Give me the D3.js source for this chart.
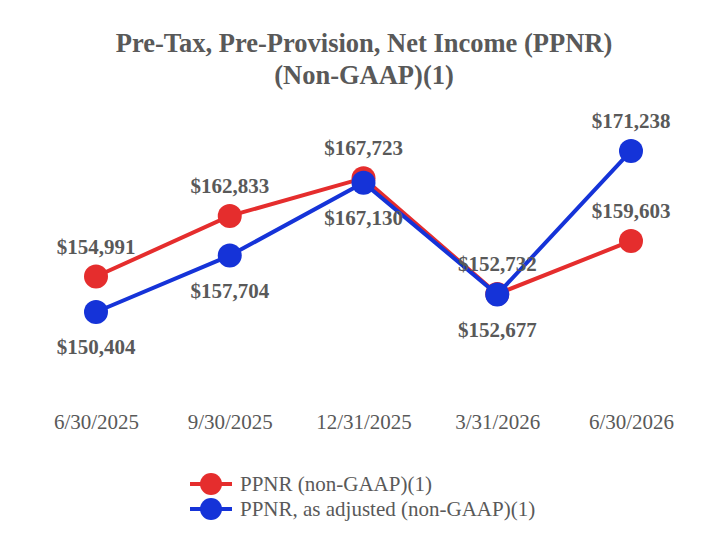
<!DOCTYPE html>
<html>
<head>
<meta charset="utf-8">
<script src="https://cdn.jsdelivr.net/npm/d3@7"></script>
<style>
  body { margin: 0; background: #fff; }
  svg { display: block; }
  svg text { font-family: 'Liberation Serif', 'DejaVu Serif', serif; }
</style>
</head>
<body>
<div id="chart"></div>
<script>
// Data
const categories = ['6/30/2025', '9/30/2025', '12/31/2025', '3/31/2026', '6/30/2026'];
const ppnr = [154991, 162833, 167723, 152732, 159603];
const ppnrAdjusted = [150404, 157704, 167130, 152677, 171238];
const seriesNames = ['PPNR (non-GAAP)(1)', 'PPNR, as adjusted (non-GAAP)(1)'];
const titleLines = ['Pre-Tax, Pre-Provision, Net Income (PPNR)', '(Non-GAAP)(1)'];

const width = 728, height = 556;
const red = '#e52d2d', blue = '#1533d8', grey = '#595959';

const svg = d3.select('#chart').append('svg')
  .attr('width', width)
  .attr('height', height);

// Title
svg.append('g').selectAll('text')
  .data(titleLines)
  .enter().append('text')
  .attr('x', width / 2)
  .attr('y', (d, i) => 52 + i * 32)
  .attr('text-anchor', 'middle')
  .style('font-weight', 'bold')
  .style('font-size', '26.5px')
  .attr('fill', grey)
  .text(d => d);

// Scales
const x = d3.scalePoint()
  .domain(categories)
  .range([96, 631]);

const y = d3.scaleLinear()
  .domain([140000, 175000])
  .range([392.4, 121.9]);

// X axis labels only (no line / ticks)
const xAxis = svg.append('g')
  .attr('transform', 'translate(0,414)')
  .call(d3.axisBottom(x).tickSize(0).tickPadding(0));
xAxis.select('.domain').remove();
xAxis.selectAll('text')
  .style('font-size', '21px')
  .attr('fill', grey)
  .attr('dy', '0.71em');

const line = d3.line()
  .x((d, i) => x(categories[i]))
  .y(d => y(d));

const series = [
  { name: seriesNames[0], values: ppnr, color: red },
  { name: seriesNames[1], values: ppnrAdjusted, color: blue }
];

// Lines and markers
series.forEach(s => {
  svg.append('path')
    .datum(s.values)
    .attr('d', line)
    .attr('fill', 'none')
    .attr('stroke', s.color)
    .attr('stroke-width', 4);

  svg.append('g').selectAll('circle')
    .data(s.values)
    .enter().append('circle')
    .attr('cx', (d, i) => x(categories[i]))
    .attr('cy', d => y(d))
    .attr('r', 12)
    .attr('fill', s.color);
});

// Value labels: PPNR above its point; adjusted below unless it is the higher series
series.forEach((s, si) => {
  svg.append('g').selectAll('text')
    .data(s.values)
    .enter().append('text')
    .attr('x', (d, i) => x(categories[i]))
    .attr('y', (d, i) => {
      const above = si === 0 || d > ppnr[i];
      return y(d) + (above ? -30 : 35);
    })
    .attr('dy', '0.35em')
    .attr('text-anchor', 'middle')
    .style('font-weight', 'bold')
    .style('font-size', '21px')
    .attr('fill', grey)
    .text(d => '$' + d3.format(',')(d));
});

// Legend
const legend = svg.append('g')
  .selectAll('g')
  .data(series)
  .enter().append('g')
  .attr('transform', (d, i) => `translate(190,${484 + i * 25})`);

legend.append('line')
  .attr('x1', 0).attr('x2', 42)
  .attr('stroke', d => d.color)
  .attr('stroke-width', 4);
legend.append('circle')
  .attr('cx', 21)
  .attr('r', 11)
  .attr('fill', d => d.color);
legend.append('text')
  .attr('x', 50)
  .attr('dy', '0.35em')
  .style('font-size', '21px')
  .attr('fill', grey)
  .text(d => d.name);
</script>
</body>
</html>
